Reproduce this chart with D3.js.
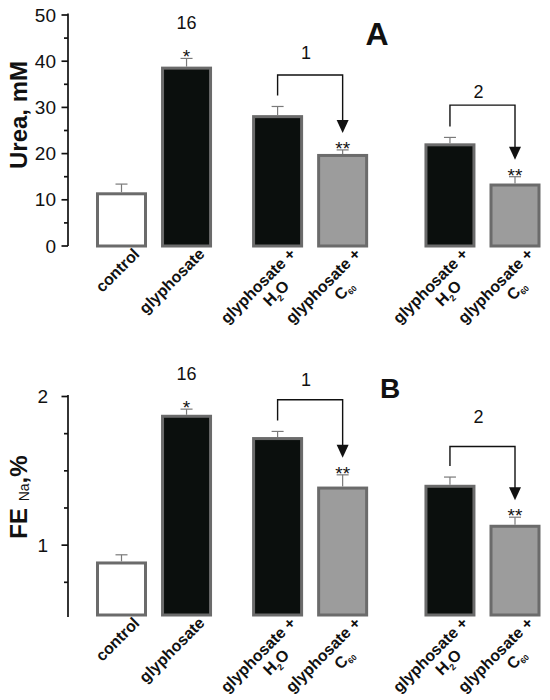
<!DOCTYPE html>
<html>
<head>
<meta charset="utf-8">
<script src="https://cdn.jsdelivr.net/npm/d3@7"></script>
<style>
  body { margin: 0; background: #fff; }
  text { font-family: "Liberation Sans", Arial, sans-serif; }
</style>
</head>
<body>
<svg id="chart" width="550" height="700"></svg>
<script>
// groups on the x axis
var categories = ["control", "glyphosate", "glyphosate + H2O", "glyphosate + C60", "glyphosate + H2O", "glyphosate + C60"];
var barKind = ["control", "glyphosate", "glyphosate", "c60", "glyphosate", "c60"];

// panel A: urea, mM
var ureaMean = [11.3, 38.5, 28.0, 19.6, 21.9, 13.2];
var ureaErr = [2.1, 2.1, 2.2, 1.2, 1.6, 1.8];
var ureaTicks = [0, 10, 20, 30, 40, 50];
var ureaMinor = [5, 15, 25, 35, 45];
var ureaStars = ["", "*", "", "**", "", "**"];

// panel B: FE Na, %
var feMean = [0.88, 1.867, 1.717, 1.384, 1.396, 1.127];
var feErr = [0.055, 0.048, 0.048, 0.089, 0.062, 0.061];
var feTicks = [1, 2];
var feMinor = [0.75, 1.25, 1.5, 1.75];
var feStars = ["", "*", "", "**", "", "**"];

// comparisons drawn as bracket arrows (bracket top and label in data units)
var comparisons = [{from: 2, to: 3, label: "1"}, {from: 4, to: 5, label: "2"}];
var ureaBracketTop = [37.0, 30.5];
var ureaBracketLabel = [41.8, 33.4];
var feBracketTop = [1.978, 1.664];
var feBracketLabel = [2.112, 1.865];
var foldLabel = "16";

var svg = d3.select("#chart");
var axisX = 68;
var barW = 48;
var fills = {control: "#ffffff", glyphosate: "#0b0f0d", c60: "#9c9c9c"};

// slot positions leave wider gaps between the three groups
var slot = [0, 1, 2.4, 3.4, 5.05, 6.05];
var x = d3.scaleLinear().domain([0, 6.05]).range([121.5, 515]);

function drawPanel(cfg) {
  var y = d3.scaleLinear().domain(cfg.domain).range(cfg.range);
  var g = svg.append("g");

  // y axis
  g.append("line")
    .attr("x1", axisX).attr("x2", axisX)
    .attr("y1", cfg.range[1] - 1.5).attr("y2", cfg.axisEnd)
    .attr("stroke", "#111").attr("stroke-width", 1.7);
  g.selectAll(".major").data(cfg.ticks).join("line")
    .attr("x1", axisX - 6.5).attr("x2", axisX)
    .attr("y1", d => y(d)).attr("y2", d => y(d))
    .attr("stroke", "#111").attr("stroke-width", 1.7);
  g.selectAll(".minor").data(cfg.minor).join("line")
    .attr("x1", axisX - 4).attr("x2", axisX)
    .attr("y1", d => y(d)).attr("y2", d => y(d))
    .attr("stroke", "#111").attr("stroke-width", 1.7);
  g.selectAll(".tlab").data(cfg.ticks).join("text")
    .attr("x", axisX - cfg.tickGap).attr("y", d => y(d))
    .attr("text-anchor", "end").attr("dominant-baseline", "central")
    .attr("font-size", cfg.tickSize).attr("fill", "#111")
    .text(d => d);

  // bars
  var base = y(cfg.domain[0]);
  g.selectAll(".bar").data(cfg.mean).join("rect")
    .attr("x", (d, i) => x(slot[i]) - barW / 2)
    .attr("width", barW)
    .attr("y", d => y(d))
    .attr("height", d => base - y(d))
    .attr("fill", (d, i) => fills[barKind[i]])
    .attr("stroke", "#6b6b6b").attr("stroke-width", 3);

  // error bars
  cfg.mean.forEach(function(m, i) {
    var cx = x(slot[i]), top = y(m + cfg.err[i]);
    g.append("line").attr("x1", cx).attr("x2", cx)
      .attr("y1", y(m) - 1.5).attr("y2", top)
      .attr("stroke", "#7a7a7a").attr("stroke-width", 1.2);
    g.append("line").attr("x1", cx - 6).attr("x2", cx + 6)
      .attr("y1", top).attr("y2", top)
      .attr("stroke", "#7a7a7a").attr("stroke-width", 1.2);
    if (cfg.stars[i]) {
      g.append("text").attr("x", cx).attr("y", top + 5)
        .attr("text-anchor", "middle").attr("font-size", 19).attr("fill", "#111")
        .text(cfg.stars[i]);
    }
  });

  // fold change above glyphosate
  g.append("text")
    .attr("x", x(slot[1])).attr("y", y(cfg.mean[1] + cfg.err[1]) - 35)
    .attr("text-anchor", "middle").attr("dominant-baseline", "central")
    .attr("font-size", 18).attr("fill", "#111")
    .text(foldLabel);

  // bracket arrows
  comparisons.forEach(function(c, k) {
    var x1 = x(slot[c.from]), x2 = x(slot[c.to]);
    var start = y(cfg.mean[c.from] + cfg.err[c.from]) - 11;
    var top = y(cfg.bracketTop[k]);
    var tip = y(cfg.mean[c.to] + cfg.err[c.to]) - 17;
    g.append("path")
      .attr("d", d3.line()([[x1, start], [x1, top], [x2, top], [x2, tip - 12]]))
      .attr("fill", "none").attr("stroke", "#111").attr("stroke-width", 1.4);
    g.append("path")
      .attr("d", d3.line()([[x2 - 6, tip - 13], [x2 + 6, tip - 13], [x2, tip]]) + "Z")
      .attr("fill", "#111");
    g.append("text")
      .attr("x", (x1 + x2) / 2 - 4).attr("y", y(cfg.bracketLabel[k]))
      .attr("text-anchor", "middle").attr("dominant-baseline", "central")
      .attr("font-size", 18).attr("fill", "#111")
      .text(c.label);
  });

  // panel letter
  g.append("text")
    .attr("x", cfg.letterX).attr("y", cfg.letterY)
    .attr("text-anchor", "middle").attr("dominant-baseline", "central")
    .attr("font-size", cfg.letterSize).attr("font-weight", "bold").attr("fill", "#111")
    .text(cfg.letter);

  // category labels, rotated
  categories.forEach(function(name, i) {
    var parts = name.split(" + ");
    var anchor = `translate(${x(slot[i]) + 19}, ${base + 9}) rotate(-45)`;
    var t = g.append("text")
      .attr("transform", anchor)
      .attr("text-anchor", "end").attr("font-size", 16).attr("font-weight", "bold").attr("fill", "#111");
    if (parts.length == 1) {
      t.text(name);
      return;
    }
    t.text(parts[0] + " +");
    var t2 = g.append("text")
      .attr("transform", anchor + " translate(-27, 18)")
      .attr("text-anchor", "end").attr("font-size", 16).attr("font-weight", "bold").attr("fill", "#111");
    if (parts[1] == "H2O") {
      t2.append("tspan").text("H");
      t2.append("tspan").attr("dy", 4).attr("font-size", 9).text("2");
      t2.append("tspan").attr("dy", -4).text("O");
    } else {
      t2.append("tspan").text("C");
      t2.append("tspan").attr("dy", 3).attr("font-size", 8).text("60");
    }
  });

  return g;
}

drawPanel({
  domain: [0, 50], range: [246, 15], axisEnd: 246,
  mean: ureaMean, err: ureaErr, ticks: ureaTicks, minor: ureaMinor, stars: ureaStars,
  bracketTop: ureaBracketTop, bracketLabel: ureaBracketLabel,
  tickSize: 19, tickGap: 12, letter: "A", letterX: 377, letterY: 34, letterSize: 32
});

drawPanel({
  domain: [0.53, 2], range: [615, 396.5], axisEnd: 617,
  mean: feMean, err: feErr, ticks: feTicks, minor: feMinor, stars: feStars,
  bracketTop: feBracketTop, bracketLabel: feBracketLabel,
  tickSize: 19, tickGap: 20, letter: "B", letterX: 390, letterY: 388, letterSize: 28
});

// y axis titles
svg.append("text")
  .attr("transform", "translate(27, 115) rotate(-90)")
  .attr("text-anchor", "middle")
  .attr("font-size", 24).attr("font-weight", "bold").attr("fill", "#111")
  .text("Urea, mM");

var fe = svg.append("text")
  .attr("transform", "translate(27, 497) rotate(-90)")
  .attr("text-anchor", "middle")
  .attr("font-size", 24).attr("font-weight", "bold").attr("fill", "#111");
fe.append("tspan").text("FE ");
fe.append("tspan").attr("font-size", 14).attr("font-weight", "normal").attr("dy", 2).text("Na");
fe.append("tspan").attr("dy", -2).text(",%");
</script>
</body>
</html>
